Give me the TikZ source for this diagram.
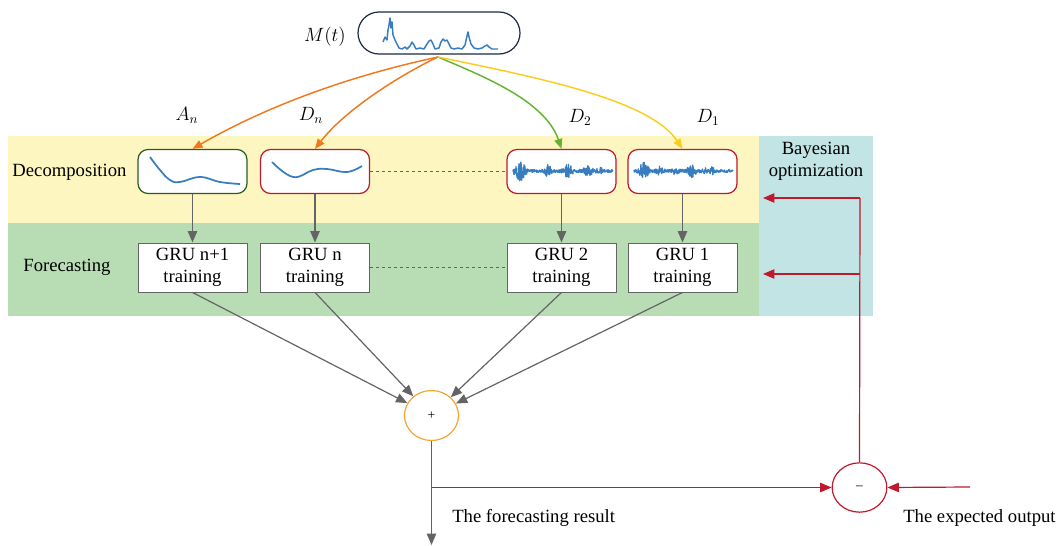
\documentclass[tikz,border=0pt]{standalone}
\usepackage{fontspec}
\setmainfont{Liberation Serif}
\usetikzlibrary{arrows.meta,shapes.geometric}
\definecolor{bandY}{RGB}{254,246,192}
\definecolor{bandG}{RGB}{184,221,180}
\definecolor{bandC}{RGB}{194,228,228}
\definecolor{sig}{RGB}{55,125,192}
\definecolor{redB}{RGB}{190,25,45}
\definecolor{greenB}{RGB}{40,95,30}
\definecolor{navyB}{RGB}{30,40,70}
\definecolor{grayA}{RGB}{100,100,100}
\definecolor{orangeA}{RGB}{240,120,30}
\definecolor{greenA}{RGB}{100,180,50}
\definecolor{yellowA}{RGB}{250,205,30}
\definecolor{plusO}{RGB}{245,165,50}
\tikzset{
  decbox/.style={draw, rounded corners=7.5pt, minimum width=81.75pt, minimum height=33pt, fill=white, line width=0.9pt, inner sep=0pt},
  grubox/.style={draw=grayA, fill=white, minimum width=81.75pt, minimum height=36.75pt, align=center, inner sep=0pt, line width=0.7pt},
  garrow/.style={draw=grayA, line width=0.9pt, -{Triangle[length=8.5pt,width=7pt]}},
  rarrow/.style={draw=redB, line width=0.9pt, -{Triangle[length=8.5pt,width=7pt]}},
  carrow/.style={line width=1.1pt, -{Triangle[length=7.5pt,width=6pt]}},
  dotline/.style={draw=grayA, dash pattern=on 2pt off 2.5pt, line width=0.8pt},
  sigline/.style={draw=sig, line width=1.1pt, line join=round},
  txt/.style={font=\fontsize{14}{16.5}\selectfont, align=center, inner sep=0pt},
}
\begin{document}
\begin{tikzpicture}[x=0.75pt,y=-0.75pt]
\useasboundingbox (0,0) rectangle (1061,546);
% bands
\fill[bandY] (8,136) rectangle (759,223);
\fill[bandG] (8,223) rectangle (759,316);
\fill[bandC] (759,136) rectangle (873,316);
\node[txt] (lblDec) at (69.5,172) {Decomposition};
\node[txt] (lblFor) at (67,267) {Forecasting};
\node[txt] (lblBay) at (816,161) {Bayesian\\optimization};

% M(t)
\node[draw=navyB, line width=0.9pt, rounded corners=15.75pt, minimum width=121.5pt, minimum height=31.5pt, fill=white] (mt) at (439,33) {};
\node[txt] (lblMt) at (325,37) {$M(t)$};
\draw[sigline] plot coordinates {(383,42)(385,37)(387,40)(388,30)(389,25)(390,18)(391,28)(392,22)(393,35)(395,40)(397,44)(399,48)(402,49)(405,47)(407,49)(410,46)(412,42)(414,45)(416,49)(420,48)(424,49)(427,44)(429,41)(431,40)(433,44)(435,49)(439,48)(441,42)(443,39)(445,41)(447,40)(449,44)(451,48)(454,49)(458,48)(462,49)(465,45)(467,36)(468,32)(469,37)(471,44)(474,48)(478,49)(482,48)(485,46)(487,45)(489,47)(492,49)(498,49)};

% decomposition boxes
\node[decbox, draw=greenB] (an) at (192.5,171.5) {};
\node[decbox, draw=redB] (dn) at (315,171.5) {};
\node[decbox, draw=redB] (d2) at (561.5,171.5) {};
\node[decbox, draw=redB] (d1) at (682.5,171.5) {};
\draw[sigline, line width=1.3pt] plot[smooth, tension=0.7] coordinates {(150,157)(160,170)(170,180)(180,182)(200,177)(220,182)(240,184)};
\draw[sigline, line width=1.3pt] plot[smooth, tension=0.7] coordinates {(272,162)(293,177)(313,170)(327,169)(347,172)(362,166)};
\pgfmathsetseed{7}
\draw[sigline, line width=1pt] plot[domain=513:613, samples=300] (\x, {171 + (1.5 + 9*exp(-((\x-520)/5)^2) + 5*exp(-((\x-548)/3)^2) + 6*exp(-((\x-568)/4)^2) + 4*exp(-((\x-588)/5)^2) + 3*exp(-((\x-600)/3)^2))*rand});
\draw[sigline, line width=1pt] plot[domain=634:733, samples=300] (\x, {171 + (1.5 + 9*exp(-((\x-644)/4)^2) + 4*exp(-((\x-660)/3)^2) + 3*exp(-((\x-676)/3)^2) + 5*exp(-((\x-692)/5)^2) + 3*exp(-((\x-712)/2)^2) + 2*exp(-((\x-705)/2)^2))*rand});

% labels
\node[txt] (lAn) at (187,115) {$A_n$};
\node[txt] (lDn) at (311,115) {$D_n$};
\node[txt] (lD2) at (580,117) {$D_2$};
\node[txt] (lD1) at (708,117) {$D_1$};

% coloured arrows
\coordinate (src) at (438,57);
\draw[carrow, orangeA] (src) .. controls (340,78) and (260,110) .. (an.north);
\draw[carrow, orangeA] (src) .. controls (400,75) and (345,110) .. (dn.north);
\draw[carrow, greenA] (src) .. controls (480,75) and (545,100) .. (d2.north);
\draw[carrow, yellowA] (src) .. controls (540,78) and (650,100) .. (d1.north);

% GRU boxes
\node[grubox, txt] (g1) at (192.5,267.5) {GRU n+1\\training};
\node[grubox, txt] (g2) at (315,267.5) {GRU n\\training};
\node[grubox, txt] (g3) at (561.5,267.5) {GRU 2\\training};
\node[grubox, txt] (g4) at (682.5,267.5) {GRU 1\\training};

\draw[garrow] (an) -- (g1);
\draw[garrow] (dn) -- (g2);
\draw[garrow] (d2) -- (g3);
\draw[garrow] (d1) -- (g4);

\draw[dotline] (dn.east) -- (d2.west);
\draw[dotline] (g2.east) -- (g3.west);

% plus
\node[ellipse, draw=plusO, line width=0.9pt, minimum width=40.5pt, minimum height=37.5pt, inner sep=0pt, font=\fontsize{10}{12}\selectfont] (plus) at (431.5,415.5) {+};
\draw[garrow] (g1.south) -- (plus);
\draw[garrow] (g2.south) -- (plus);
\draw[garrow] (g3.south) -- (plus);
\draw[garrow] (g4.south) -- (plus);

\coordinate (outEnd) at (431.5,545);
\draw[garrow] (plus.south) -- (outEnd);
\node[txt, anchor=west] (lblRes) at (452,518) {The forecasting result};

% minus
\node[ellipse, draw=redB, line width=0.9pt, minimum width=41pt, minimum height=37pt, inner sep=0pt, font=\fontsize{10}{12}\selectfont] (minus) at (859.5,487.5) {--};
\coordinate (junc) at (431.5,487.5);
\draw[rarrow] (junc) -- (minus.west);
\coordinate (expIn) at (970,487);
\draw[rarrow] (expIn) -- (minus.east);
\node[txt, anchor=west] (lblExp) at (903,518) {The expected output};

\coordinate (up1) at (860,198);
\coordinate (up2) at (860,274);
\coordinate (tip1) at (763,198);
\coordinate (tip2) at (763,274);
\draw[redB, line width=0.9pt] (minus.north) -- (up1);
\draw[rarrow] (up1) -- (tip1);
\draw[rarrow] (up2) -- (tip2);
\end{tikzpicture}
\end{document}
